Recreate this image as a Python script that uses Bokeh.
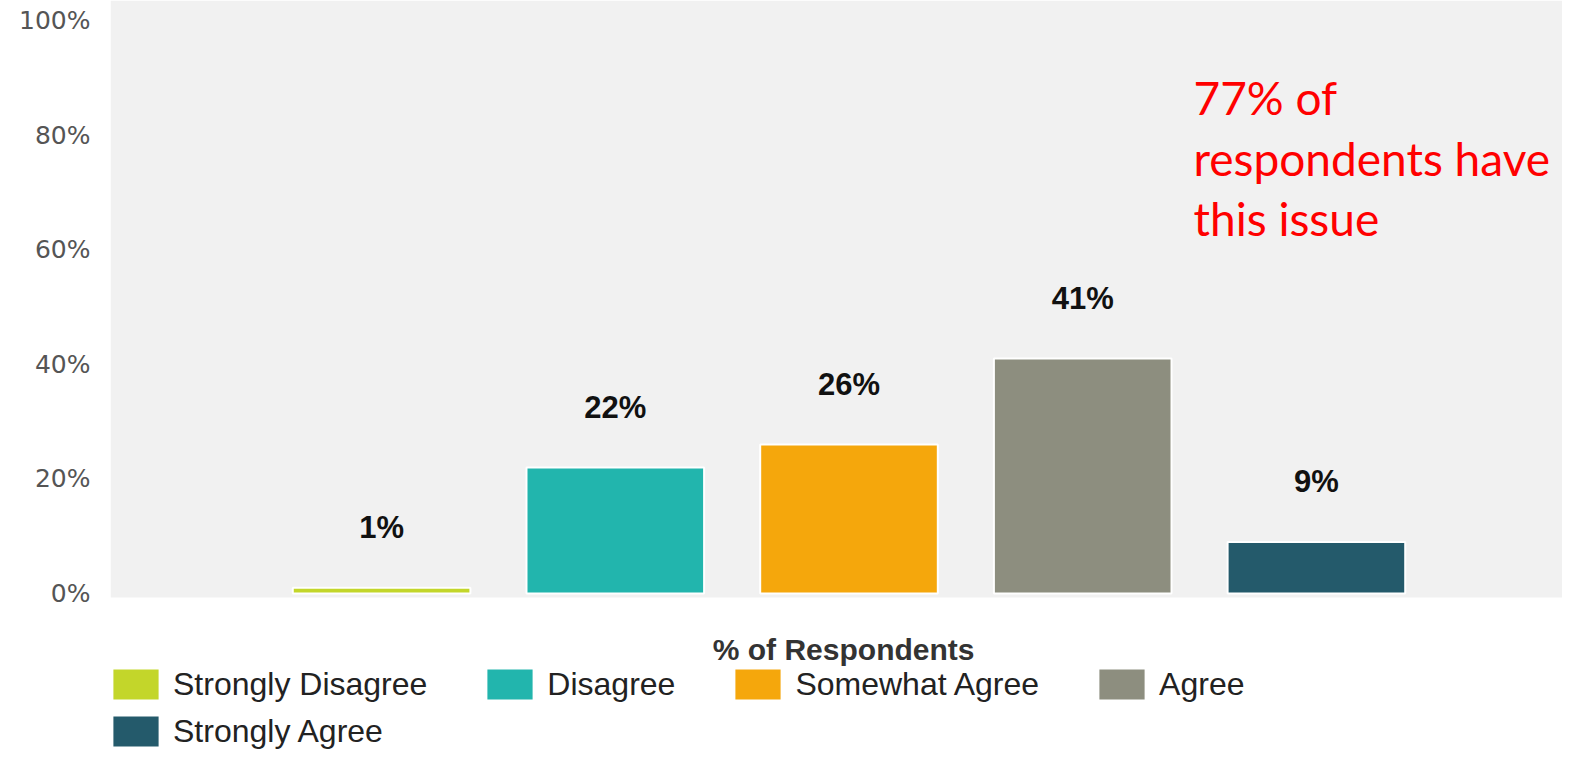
from bokeh.plotting import figure
from bokeh.models import (Range1d, FixedTicker, BoxAnnotation, Label,
                          Legend, LegendItem, ColumnDataSource)
from bokeh.core.properties import value
from bokeh.embed import file_html
from bokeh.resources import INLINE

categories = ["Strongly Disagree", "Disagree", "Somewhat Agree", "Agree", "Strongly Agree"]
percents = [1, 22, 26, 41, 9]
bar_labels = ["1%", "22%", "26%", "41%", "9%"]
colors = ["#c3d62a", "#22b5ad", "#f5a70c", "#8d8e7f", "#245a6b"]
tick_values = [0, 20, 40, 60, 80, 100]
tick_labels = ["0%", "20%", "40%", "60%", "80%", "100%"]
legend_title = "% of Respondents"
note_lines = ["77% of", "respondents have", "this issue"]

positions = list(range(len(categories)))
src = ColumnDataSource(dict(x=positions, cat=categories, pct=percents,
                            lab=bar_labels, color=colors))

p = figure(width=1562, height=755, output_backend="svg", toolbar_location=None,
           x_range=Range1d(-1.16, 5.053),
           y_range=Range1d(-28.27, 103.5),
           x_axis_location=None,
           min_border_left=110, min_border_right=0, min_border_top=0, min_border_bottom=0)
p.outline_line_color = None
p.background_fill_color = "white"
p.border_fill_color = "white"
p.grid.grid_line_color = None

p.add_layout(BoxAnnotation(bottom=-0.7, fill_color="#f1f1f1", fill_alpha=1,
                           line_color=None, level="underlay"))

r = p.vbar(x="x", top="pct", bottom=0, width=0.76, fill_color="color",
           line_color="white", line_width=2, source=src)

p.text(x="x", y="pct", text="lab", source=src, y_offset=-60,
       text_align="center", text_baseline="middle",
       text_font=value("Liberation Sans"), text_font_style="bold",
       text_font_size="31px", text_color="#111111")

ax = p.yaxis[0]
ax.ticker = FixedTicker(ticks=tick_values)
ax.major_label_overrides = dict(zip(tick_values, tick_labels))
ax.axis_line_color = None
ax.major_tick_line_color = None
ax.minor_tick_line_color = None
ax.major_tick_out = 0
ax.major_tick_in = 0
ax.major_label_standoff = 20
ax.major_label_text_font = "DejaVu Sans"
ax.major_label_text_font_size = "25px"
ax.major_label_text_color = "#555555"

leg_style = dict(orientation="horizontal", spacing=53, glyph_width=59, glyph_height=40,
                 label_standoff=8, padding=0, margin=0, border_line_color=None,
                 background_fill_alpha=0, label_text_font_size="32px",
                 label_text_font="Liberation Sans", label_text_color="#222222")
leg1 = Legend(items=[LegendItem(label=categories[i], renderers=[r], index=i) for i in range(4)],
              location=(-4, 51), **leg_style)
leg2 = Legend(items=[LegendItem(label=categories[4], renderers=[r], index=4)],
              location=(-4, 4), **leg_style)
p.add_layout(leg1)
p.add_layout(leg2)

p.add_layout(Label(x=1.977, y=-9.77, text=legend_title, text_align="center",
                   text_baseline="middle", text_font="Liberation Sans",
                   text_font_style="bold", text_font_size="30px", text_color="#333333"))

for txt, yv in zip(note_lines, [86.6, 76.0, 65.4]):
    p.add_layout(Label(x=3.474, y=yv, text=txt, text_align="left",
                       text_baseline="alphabetic", text_font="Lato",
                       text_font_size="46px", text_color="#ff0000"))

open("out.html", "w").write(file_html(p, INLINE))
